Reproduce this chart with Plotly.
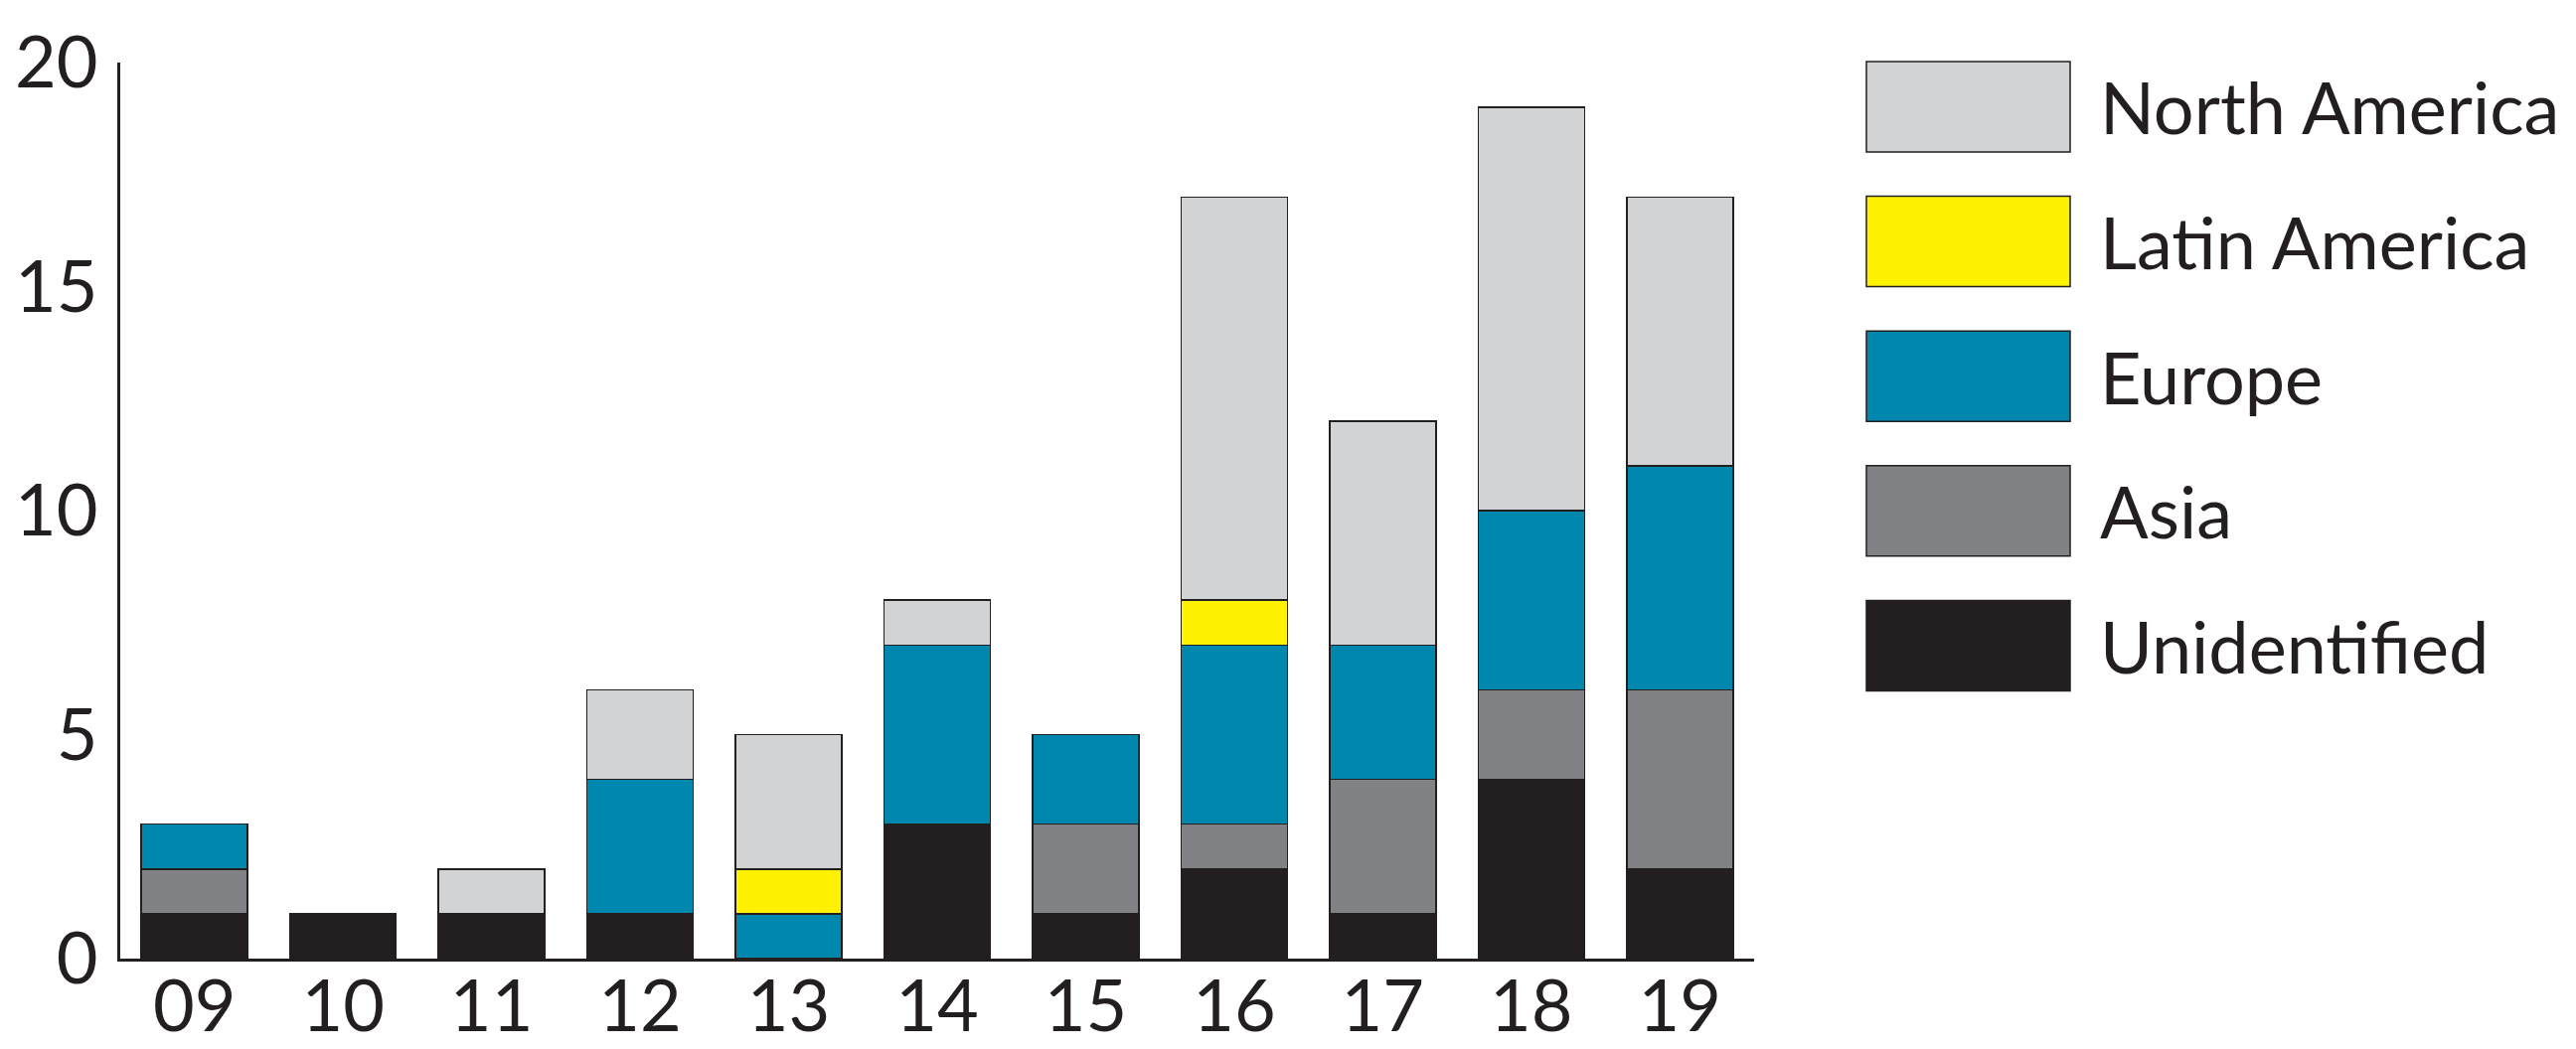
import plotly.graph_objects as go

years = ["09", "10", "11", "12", "13", "14", "15", "16", "17", "18", "19"]
unidentified = [1, 1, 1, 1, 0, 3, 1, 2, 1, 4, 2]
asia = [1, 0, 0, 0, 0, 0, 2, 1, 3, 2, 4]
europe = [1, 0, 0, 3, 1, 4, 2, 4, 3, 4, 5]
latin_america = [0, 0, 0, 0, 1, 0, 0, 1, 0, 0, 0]
north_america = [0, 0, 1, 2, 3, 1, 0, 9, 5, 9, 6]

series = [
    ("Unidentified", unidentified, "#231f20"),
    ("Asia", asia, "#808285"),
    ("Europe", europe, "#0087ad"),
    ("Latin America", latin_america, "#fff200"),
    ("North America", north_america, "#d1d3d4"),
]

OFF = 8  # page body margin
W, H = 2592 - OFF, 1056 - OFF
L, R, T, B = 121 - OFF, 1765 - OFF, 63 - OFF, 965 - OFF
FONT = "Lato"
INK = "#231f20"

fig = go.Figure()
for name, vals, color in series:
    fig.add_trace(go.Bar(
        x=years, y=[v if v else None for v in vals], name=name,
        marker=dict(color=color, line=dict(color=INK, width=1.5)),
        showlegend=False,
    ))

# legend swatches (top to bottom), positions in page pixels
legend_order = list(reversed(series))
box_x0, box_x1 = 1878, 2083
box_top0, box_h, pitch = 62, 91, 135.6
def px(x):
    return (x - OFF - L) / (R - L)
def py(y):
    return (B - (y - OFF)) / (B - T)
for i, (name, vals, color) in enumerate(legend_order):
    y0 = box_top0 + i * pitch
    y1 = y0 + box_h
    fig.add_shape(type="rect", xref="paper", yref="paper",
                  x0=px(box_x0), x1=px(box_x1), y0=py(y1), y1=py(y0),
                  fillcolor=color, line=dict(color=INK, width=1.5))
    fig.add_annotation(xref="paper", yref="paper", x=px(2111), y=py((y0 + y1) / 2),
                       text=name, showarrow=False, xanchor="left", yanchor="middle",
                       font=dict(family=FONT, size=72, color=INK))

fig.update_layout(
    width=W, height=H,
    margin=dict(l=L, r=W - R, t=T, b=H - B, pad=0, autoexpand=False),
    paper_bgcolor="white", plot_bgcolor="white",
    barmode="stack", bargap=0.284,
    font=dict(family=FONT, size=72, color=INK),
)
fig.update_xaxes(
    range=[-0.5, 10.5], showgrid=False, zeroline=False, automargin=False,
    showline=True, linecolor=INK, linewidth=3, ticks="",
    tickfont=dict(family=FONT, size=72, color=INK), ticklabelstandoff=-16,
)
fig.update_yaxes(
    range=[0, 20], tickvals=[0, 5, 10, 15, 20], showgrid=False, zeroline=False,
    automargin=False,
    showline=True, linecolor=INK, linewidth=3, ticks="",
    tickfont=dict(family=FONT, size=72, color=INK), ticklabelstandoff=5,
)

fig.write_html("out.html")
